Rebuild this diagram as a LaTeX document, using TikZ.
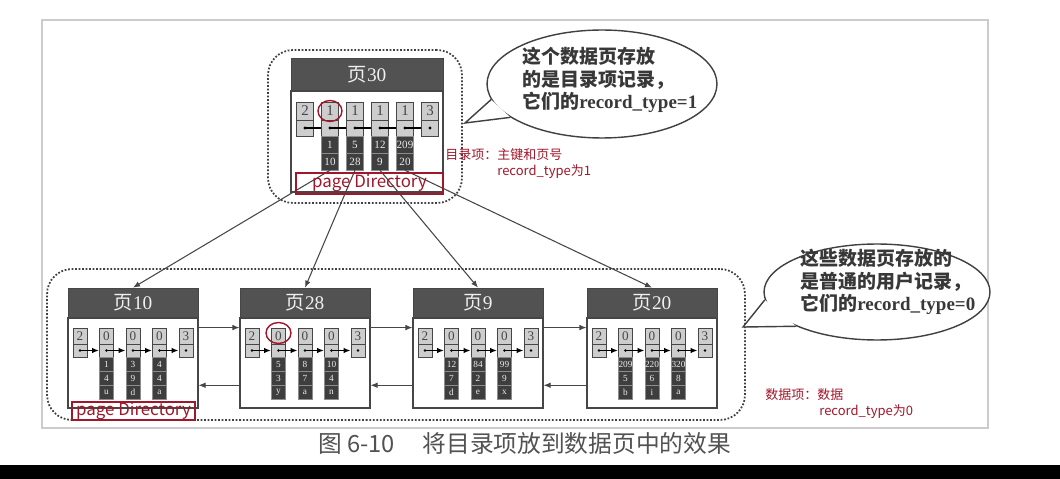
\documentclass[tikz,border=0pt]{standalone}
\usepackage{fontspec}
\setmainfont{Liberation Serif}
\newfontfamily\cjk{Noto Sans CJK SC}
\usetikzlibrary{arrows.meta,shapes.geometric}
\definecolor{markred}{RGB}{160,22,42}
\definecolor{hdrgray}{RGB}{82,82,82}
\definecolor{cellgray}{RGB}{205,205,205}
\definecolor{datgray}{RGB}{62,62,62}
\definecolor{inkgray}{RGB}{70,70,70}
\tikzset{
  hdr/.style={fill=hdrgray, draw=inkgray, text=white!88!gray, inner sep=0pt,
    font=\fontsize{11}{11}\selectfont},
  pagebox/.style={draw=inkgray, fill=white, line width=0.6pt, inner sep=0pt},
  groupbox/.style={draw=black!75, densely dotted, line width=1pt,
    rounded corners=0.5cm, inner sep=0pt},
  numcell/.style={draw=inkgray, fill=cellgray, text=inkgray, line width=0.5pt,
    inner sep=0pt, minimum width=0.28cm, minimum height=0.32cm,
    font=\fontsize{7.5}{7.5}\selectfont},
  dotcell/.style={numcell, minimum height=0.26cm},
  datcell/.style={fill=datgray, draw=black!45, line width=0.3pt, text=white!85!gray,
    inner sep=0pt, minimum width=0.28cm, minimum height=0.28cm,
    font=\fontsize{5.3}{5.3}\selectfont},
  topnum/.style={numcell, minimum width=0.34cm, minimum height=0.36cm,
    font=\fontsize{8.5}{8.5}\selectfont},
  topdot/.style={topnum, minimum height=0.32cm},
  topdat/.style={datcell, minimum width=0.34cm, minimum height=0.34cm,
    font=\fontsize{6.3}{6.3}\selectfont},
  recarrow/.style={->, line width=1.1pt},
  linkarrow/.style={->, draw=inkgray, line width=0.6pt},
  treearrow/.style={->, draw=inkgray, line width=0.6pt},
  bubble/.style={ellipse, draw=black!75, line width=0.8pt, fill=white, inner sep=0pt},
  bubbletext/.style={anchor=west, align=left, text=black!78, inner sep=0pt,
    font=\fontsize{10.8}{12.8}\selectfont\cjk\bfseries},
  note/.style={anchor=west, text=markred, inner sep=0pt,
    font=\fontsize{7.4}{9}\selectfont\cjk},
  dirbox/.style={draw=markred, line width=1.1pt, text=markred, inner sep=0pt,
    font=\fontsize{9.6}{9.6}\selectfont\cjk},
  ring/.style={draw=markred, line width=0.8pt},
  >={Latex[length=4pt,width=3.2pt]}
}
\begin{document}
\begin{tikzpicture}[x=0.02cm, y=-0.02cm]
  \path[use as bounding box, fill=white] (0,0) rectangle (1060,479);
  \draw[black!20, line width=0.6pt] (42,20) rectangle (988,428);

  % the two levels
  \node[groupbox, minimum width=3.88cm, minimum height=3.06cm] (gtop) at (365,126.5) {};
  \node[groupbox, minimum width=13.96cm, minimum height=3.02cm] (gbot) at (396,344.5) {};

  % directory page
  \node[hdr, minimum width=3.04cm, minimum height=0.66cm] (h30) at (367,74.5) {{\cjk 页}30};
  \node[pagebox, minimum width=3.04cm, minimum height=2.02cm] (pg30) at (367,141.5) {};
  \foreach \i/\n in {1/2,2/1,3/1,4/1,5/1,6/3} {
    \node[topnum] (tn\i) at (280+25*\i,111) {\n};
    \node[topdot] (td\i) at (280+25*\i,128) {};
    \fill (td\i) circle (0.9pt);
  }
  \foreach \i in {1,...,5} {
    \pgfmathtruncatemacro\j{\i+1}
    \draw[line width=0.9pt] (td\i.center) -- (td\j);
  }
  \foreach \k/\p [count=\c from 2] in {1/10,5/28,12/9,209/20} {
    \node[topdat] (tk\c) at (280+25*\c,144.5) {\k};
    \node[topdat] (tp\c) at (280+25*\c,161.5) {\p};
  }

  % data pages
  \foreach \pg/\L/\recs in {10/68/{1/4/u,3/9/d,4/4/a}, 28/240/{5/3/y,8/7/a,10/4/n},
      9/413/{12/7/d,84/2/e,99/9/x}, 20/587/{209/5/b,220/6/i,320/8/a}} {
    \node[hdr, minimum width=2.6cm, minimum height=0.6cm] (h\pg) at (\L+65,303) {{\cjk 页}\pg};
    \node[pagebox, minimum width=2.6cm, minimum height=1.8cm] (pg\pg) at (\L+65,363) {};
    \foreach \i/\n in {1/2,2/0,3/0,4/0,5/3} {
      \node[numcell] (n\pg-\i) at (\L-14.5+26.5*\i,336) {\n};
      \node[dotcell] (d\pg-\i) at (\L-14.5+26.5*\i,350.5) {};
      \fill (d\pg-\i) circle (0.8pt);
    }
    \foreach \k/\m/\s [count=\c from 2] in \recs {
      \node[datcell] (k\pg-\c) at (\L-14.5+26.5*\c,364) {\k};
      \node[datcell] (m\pg-\c) at (\L-14.5+26.5*\c,378) {\m};
      \node[datcell] (s\pg-\c) at (\L-14.5+26.5*\c,392) {\s};
    }
    \foreach \i in {1,...,4} {
      \pgfmathtruncatemacro\j{\i+1}
      \draw[recarrow] (d\pg-\i.center) -- (d\pg-\j);
    }
  }
  \foreach \a/\b in {10/28, 28/9, 9/20} {
    \draw[linkarrow] (pg\a.east |- n\a-5.north) -- (pg\b.west |- n\a-5.north);
    \draw[linkarrow] (pg\b.west |- m\b-2.south) -- (pg\a.east |- m\b-2.south);
  }

  % directory entries point to the pages
  \draw[treearrow] (tp2.south) -- (h10.north);
  \draw[treearrow] (tp3.south) -- (h28.north);
  \draw[treearrow] (tp4.south) -- (h9.north);
  \draw[treearrow] (tp5.south) -- (h20.north);

  % bubbles
  \node[bubble, minimum width=4.6cm, minimum height=2.16cm] (b1) at (602,84) {};
  \coordinate (b1tip) at (465,123);
  \fill[white] (b1.188) -- (b1tip) -- (b1.200) -- cycle;
  \draw[black!75, line width=0.8pt] (b1.188) -- (b1tip) -- (b1.200);
  \node[bubbletext] (b1t) at (522,80)
    {这个数据页存放\\的是目录项记录，\\它们的\rmfamily record\_type=1};
  \node[bubble, minimum width=4.52cm, minimum height=1.92cm] (b2) at (877,292) {};
  \coordinate (b2tip) at (743,327);
  \fill[white] (b2.184) -- (b2tip) -- (b2.203) -- cycle;
  \draw[black!75, line width=0.8pt] (b2.184) -- (b2tip) -- (b2.203);
  \node[bubbletext] (b2t) at (800,282)
    {这些数据页存放的\\是普通的用户记录，\\它们的\rmfamily record\_type=0};

  % red marks
  \node[dirbox, minimum width=2.94cm, minimum height=0.42cm] (dir30) at (369.5,183.5) {page Directory};
  \node[dirbox, minimum width=2.46cm, minimum height=0.32cm] (dir10) at (133.5,411) {page Directory};
  \draw[ring] (tn2) ellipse (0.24cm and 0.21cm);
  \draw[ring] ([yshift=0.06cm]n28-2.center) ellipse (0.25cm and 0.21cm);
  \node[note] (note1) at (445,155) {目录项：主键和页号};
  \node[note] (note2) at (497,172) {record\_type为1};
  \node[note] (note3) at (765,395) {数据项：数据};
  \node[note] (note4) at (819,412) {record\_type为0};

  % caption
  \node[anchor=west, inner sep=0pt, text=black!68, font=\fontsize{13.5}{13.5}\selectfont\cjk]
    (cap) at (318,443) {图 6-10\hspace{0.55cm}将目录项放到数据页中的效果};
  \fill[black] (0,465) rectangle (1060,479);
\end{tikzpicture}
\end{document}
